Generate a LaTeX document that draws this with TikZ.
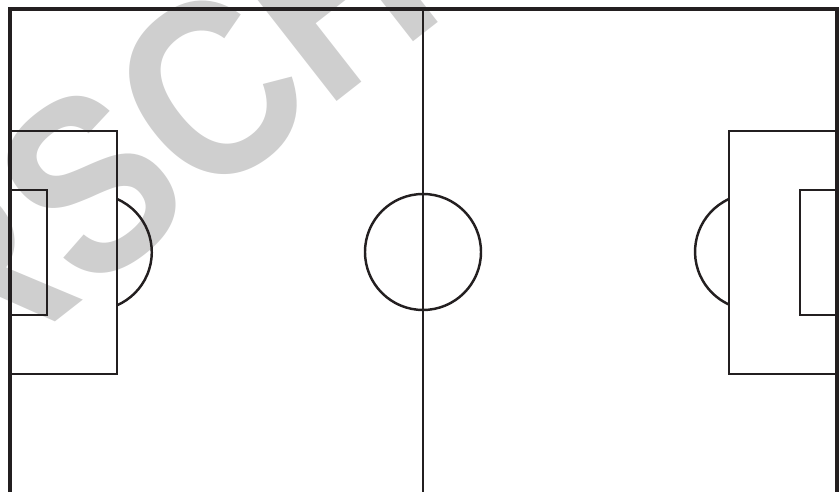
\documentclass[tikz,border=0pt]{standalone}
\usepackage{fontspec}
\newfontfamily\markfont{Liberation Sans}
\definecolor{linecolor}{RGB}{35,31,32}
\definecolor{markcolor}{RGB}{207,207,207}

\begin{document}
\begin{tikzpicture}[
  x=0.02cm, y=-0.02cm,
  borderline/.style={
    draw=linecolor,
    line width=2.3pt
  },
  fieldline/.style={
    draw=linecolor,
    line width=1.4pt
  },
  watermark/.style={
    text=markcolor,
    font=\markfont\bfseries\fontsize{143}{143}\selectfont,
    inner sep=0pt,
    rotate=38,
    xscale=0.87,
    anchor=base west
  }
  ]
  \useasboundingbox (0,0) rectangle (839,492);
  \clip (0,0) rectangle (839,492);

  % watermark behind the pitch
  \node[watermark] (mark) at (-38,395) {RSCH};

  % touch lines and goal line
  \draw[borderline] (10,500) -- (10,9) -- (837,9) -- (837,500);

  % halfway line and centre circle
  \draw[fieldline] (423,9) -- (423,500);
  \draw[fieldline] (423,252) circle (58);

  % left end
  \draw[fieldline] (10,131) rectangle (117,374);
  \draw[fieldline] (10,190) rectangle (47,315);
  \draw[fieldline] (117,199) arc[start angle=-66.4, end angle=66.4, radius=58];

  % right end
  \draw[fieldline] (837,131) rectangle (729,374);
  \draw[fieldline] (837,190) rectangle (800,315);
  \draw[fieldline] (729,199) arc[start angle=245.5, end angle=114.5, radius=58];

\end{tikzpicture}
\end{document}
